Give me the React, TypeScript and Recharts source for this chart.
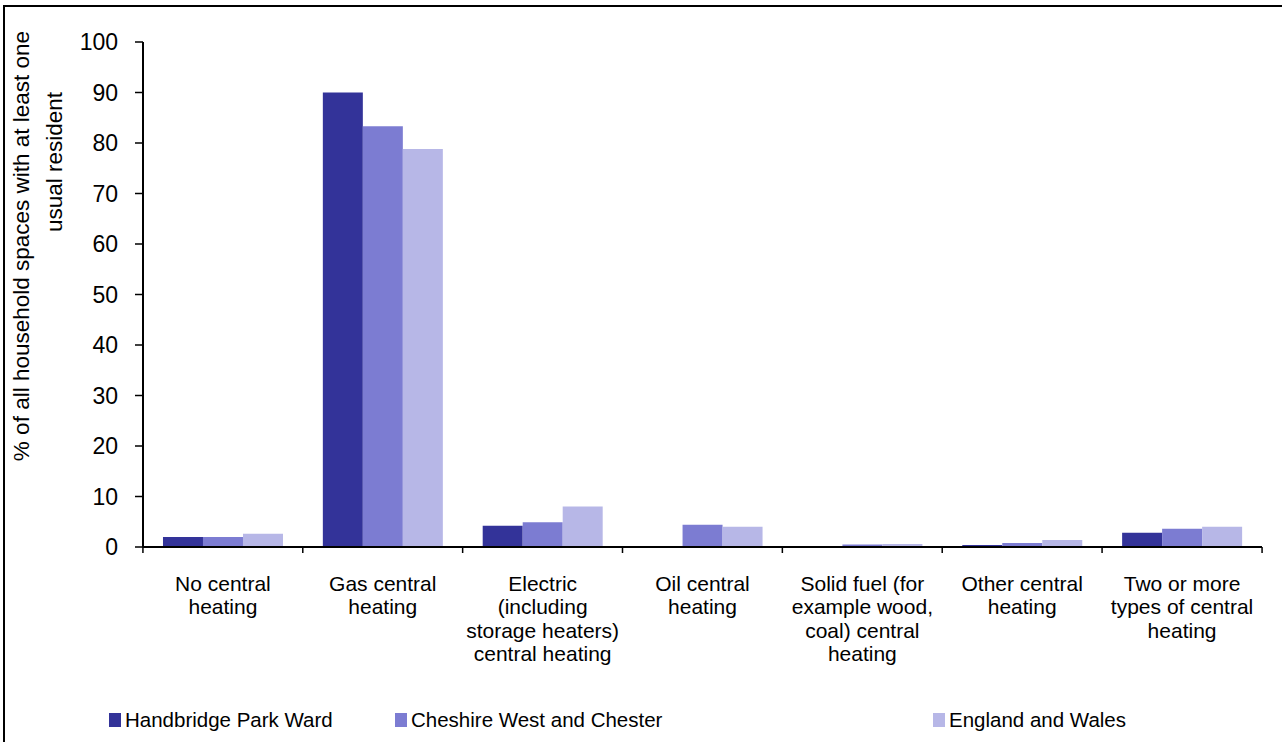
import React from "react"
import { BarChart, Bar, XAxis, YAxis, Legend, Label } from "recharts"

const categories = [
  "No central\nheating",
  "Gas central\nheating",
  "Electric\n(including\nstorage heaters)\ncentral heating",
  "Oil central\nheating",
  "Solid fuel (for\nexample wood,\ncoal) central\nheating",
  "Other central\nheating",
  "Two or more\ntypes of central\nheating",
]
const handbridge = [2.0, 90.0, 4.2, 0.2, 0.0, 0.4, 2.8]
const cheshire = [2.0, 83.3, 4.9, 4.4, 0.5, 0.8, 3.6]
const englandWales = [2.6, 78.8, 8.0, 4.0, 0.6, 1.4, 4.0]
const yTicks = [0, 10, 20, 30, 40, 50, 60, 70, 80, 90, 100]

const seriesNames = ["Handbridge Park Ward", "Cheshire West and Chester", "England and Wales"]
const colors = ["#333399", "#7c7cd2", "#b7b7e7"]

const data = categories.map((c, i) => ({
  cat: c,
  h: handbridge[i],
  c: cheshire[i],
  e: englandWales[i],
}))

const FONT = '"Liberation Sans", Arial, sans-serif'

function XTick(props: any) {
  const { x, y, payload, index } = props
  const lines = String(payload.value).split("\n")
  const half = 80
  return (
    <g>
      <line x1={x - half} x2={x - half} y1={y} y2={y + 6} stroke="#000" strokeWidth={1.5} />
      {index === categories.length - 1 && (
        <line x1={x + half} x2={x + half} y1={y} y2={y + 6} stroke="#000" strokeWidth={1.5} />
      )}
      <text x={x} y={y + 44} textAnchor="middle" fontSize={21} fontFamily={FONT} fill="#000">
        {lines.map((l, i) => (
          <tspan key={i} x={x} dy={i === 0 ? 0 : 23.4}>
            {l}
          </tspan>
        ))}
      </text>
    </g>
  )
}

function YTitle() {
  return (
    <g fontFamily={FONT} fontSize={22.5} fill="#000">
      <text transform="translate(29,246) rotate(-90)" textAnchor="middle">
        % of all household spaces with at least one
      </text>
      <text transform="translate(62,162) rotate(-90)" textAnchor="middle">
        usual resident
      </text>
    </g>
  )
}

function LegendBox() {
  const lefts = [109, 395, 933]
  return (
    <div style={{ position: "relative", width: 1282, height: 40, fontFamily: FONT }}>
      {seriesNames.map((n, i) => (
        <div
          key={n}
          style={{
            position: "absolute",
            left: lefts[i],
            top: 0,
            display: "flex",
            alignItems: "center",
            fontSize: 20.5,
            lineHeight: "24px",
            color: "#000",
          }}
        >
          <span style={{ display: "inline-block", width: 12, height: 14, background: colors[i], marginRight: 4 }} />
          <span>{n}</span>
        </div>
      ))}
    </div>
  )
}

export default function App() {
  return (
    <div style={{ position: "absolute", left: 0, top: 0, width: 1282, height: 742, background: "#fff", overflow: "hidden" }}>
      <div
        style={{
          position: "absolute",
          left: 3,
          top: 5,
          width: 1300,
          height: 760,
          border: "2px solid #000",
          boxSizing: "border-box",
        }}
      />
      <div style={{ position: "absolute", left: 0, top: 0 }}>
        <BarChart
          width={1282}
          height={742}
          data={data}
          margin={{ top: 42, right: 20, left: 83, bottom: 10 }}
          barCategoryGap="12.5%"
          barGap={0}
        >
          <XAxis
            dataKey="cat"
            interval={0}
            height={140}
            tickSize={0}
            tickMargin={0}
            tick={<XTick />}
            axisLine={{ stroke: "#000", strokeWidth: 2 }}
          />
          <XAxis
            xAxisId="top"
            dataKey="cat"
            orientation="top"
            height={0}
            tick={false}
            tickLine={false}
            axisLine={{ stroke: "#222", strokeWidth: 2 }}
          />
          <YAxis
            domain={[0, 100]}
            ticks={yTicks}
            interval={0}
            width={60}
            tickSize={8}
            tickMargin={17}
            tick={{ fontSize: 23, fontFamily: FONT, fill: "#000" }}
            tickLine={{ stroke: "#000", strokeWidth: 1.5 }}
            axisLine={{ stroke: "#000", strokeWidth: 2 }}
          >
            <Label content={<YTitle />} />
          </YAxis>
          <YAxis
            yAxisId="r"
            orientation="right"
            domain={[0, 100]}
            width={0}
            tick={false}
            tickLine={false}
            axisLine={{ stroke: "#222", strokeWidth: 2 }}
          />
          <Legend
            height={45}
            content={<LegendBox />}
            wrapperStyle={{ position: "absolute", left: 0, top: 708, width: 1282 }}
          />
          <Bar dataKey="h" name={seriesNames[0]} fill={colors[0]} isAnimationActive={false} />
          <Bar dataKey="c" name={seriesNames[1]} fill={colors[1]} isAnimationActive={false} />
          <Bar dataKey="e" name={seriesNames[2]} fill={colors[2]} isAnimationActive={false} />
        </BarChart>
      </div>
    </div>
  )
}
